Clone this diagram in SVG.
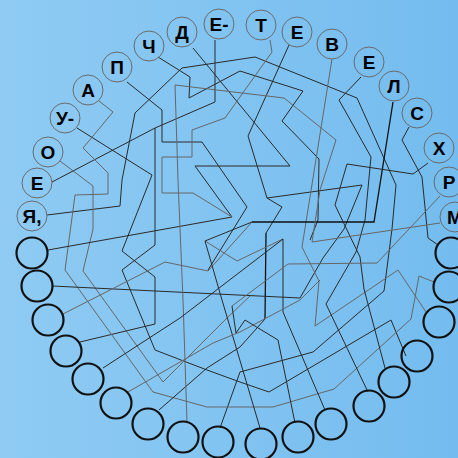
<svg xmlns="http://www.w3.org/2000/svg" width="458" height="458" viewBox="0 0 458 458">
<defs>
<linearGradient id="bg" x1="0" y1="0" x2="1" y2="0">
<stop offset="0" stop-color="#8fcbf3"/>
<stop offset="1" stop-color="#74bcef"/>
</linearGradient>
</defs>
<style>
.lc{fill:none;stroke:#6a6a6a;stroke-width:1}
.ec{fill:none;stroke:#111;stroke-width:2.2}
.t{font-family:"Liberation Sans",Arial,sans-serif;font-weight:bold;font-size:19px;fill:#000;text-anchor:middle}
.w polyline{fill:none;stroke:#2a2a2a;stroke-width:1}
.w .g{stroke:#666}
.w .k{stroke:#111;stroke-width:1.3}
</style>
<rect width="458" height="458" fill="url(#bg)"/>
<g id="connectors" class="w">
<polyline points="47,215 120,206 122,180 135,113 182,68 255,57 357,98 396,185 392,229 384,291 313,352 240,372 220,428"/>
<polyline points="52,182 155,128"/>
<polyline points="215,40 215,102 155,128 155,245 122,270 155,350 207,370 240,382 269,392 391,320 406,356"/>
<polyline points="60,161 93,186 93,229 83,271 163,382 229,316 250,296" class="g"/>
<polyline points="77,128 152,175 122,251 155,277 155,324 80,342"/>
<polyline points="99,101 113,112 83,148 108,173 108,194 75,195 65,270 153,392 207,407 273,407 334,389 411,319 419,276 434,282" class="g"/>
<polyline points="127,82 162,110 162,142 202,142 247,207 208,270"/>
<polyline points="158,57 190,77 189,98 240,71 303,91 282,121 319,159 318,220 310,240"/>
<polyline points="193,48 290,166 195,166 232,217 48,250"/>
<polyline points="270,40 272,52 225,118 192,130 192,157 162,157 162,193 193,193 232,217" class="g"/>
<polyline points="289,45 248,136 267,198 282,207 266,233"/>
<polyline points="266,233 265,319" class="k"/>
<polyline points="265,319 240,347 207,368 159,410"/>
<polyline points="267,198 362,185 344,229 323,258 300,298 52,286"/>
<polyline points="205,241 237,261 283,239" class="g"/>
<polyline points="283,239 283,312 325,410"/>
<polyline points="332,59 302,247 319,281 315,326 398,270 426,312" class="g"/>
<polyline points="361,77 339,100 371,157 365,220 356,252 326,304 368,392"/>
<polyline points="393,102 374,222 252,222" class="k"/>
<polyline points="252,222 208,271 165,262 63,314" class="g"/>
<polyline points="409,127 402,140 422,177 428,238 438,245"/>
<polyline points="428,163 413,174 347,164 335,205 360,257 364,289 385,368"/>
<polyline points="440,196 377,263 288,264 232,306" class="g"/>
<polyline points="260,428 222,300 205,241"/>
<polyline points="440,223 312,242 320,190 336,140 284,98 175,85 178,180 183,300 187,422" class="g"/>
<polyline points="103,368 180,318 283,239"/>
<polyline points="128,392 213,343 240,332 300,300 320,280" class="g"/>
<polyline points="295,423 278,340 245,320 236,333 232,306"/>
<polyline points="205,241 252,222"/>
</g>
<g id="n1"><circle class="lc" cx="32" cy="216" r="15"/><text class="t" x="32" y="223">Я,</text></g>
<g id="n2"><circle class="lc" cx="37" cy="183" r="15"/><text class="t" x="37" y="190">Е</text></g>
<g id="n3"><circle class="lc" cx="48" cy="152" r="15"/><text class="t" x="48" y="159">О</text></g>
<g id="n4"><circle class="lc" cx="65" cy="118" r="15"/><text class="t" x="65" y="125">У-</text></g>
<g id="n5"><circle class="lc" cx="88" cy="90" r="15"/><text class="t" x="88" y="97">А</text></g>
<g id="n6"><circle class="lc" cx="117" cy="67" r="15"/><text class="t" x="117" y="74">П</text></g>
<g id="n7"><circle class="lc" cx="149" cy="46" r="15"/><text class="t" x="149" y="53">Ч</text></g>
<g id="n8"><circle class="lc" cx="182" cy="32" r="15"/><text class="t" x="182" y="39">Д</text></g>
<g id="n9"><circle class="lc" cx="219" cy="24" r="15"/><text class="t" x="219" y="31">Е-</text></g>
<g id="n10"><circle class="lc" cx="261" cy="25" r="15"/><text class="t" x="261" y="32">Т</text></g>
<g id="n11"><circle class="lc" cx="297" cy="32" r="15"/><text class="t" x="297" y="39">Е</text></g>
<g id="n12"><circle class="lc" cx="332" cy="44" r="15"/><text class="t" x="332" y="51">В</text></g>
<g id="n13"><circle class="lc" cx="369" cy="62" r="15"/><text class="t" x="369" y="69">Е</text></g>
<g id="n14"><circle class="lc" cx="394" cy="86" r="15"/><text class="t" x="394" y="93">Л</text></g>
<g id="n15"><circle class="lc" cx="417" cy="113" r="15"/><text class="t" x="417" y="120">С</text></g>
<g id="n16"><circle class="lc" cx="439" cy="148" r="15"/><text class="t" x="439" y="155">Х</text></g>
<g id="n17"><circle class="lc" cx="449" cy="182" r="15"/><text class="t" x="449" y="189">Р</text></g>
<g id="n18"><circle class="lc" cx="455" cy="217" r="15"/><text class="t" x="455" y="224">М</text></g>
<g id="e1"><circle class="ec" cx="451" cy="253" r="15.5"/></g>
<g id="e2"><circle class="ec" cx="449" cy="287" r="15.5"/></g>
<g id="e3"><circle class="ec" cx="439" cy="322" r="15.5"/></g>
<g id="e4"><circle class="ec" cx="417" cy="356" r="15.5"/></g>
<g id="e5"><circle class="ec" cx="394" cy="382" r="15.5"/></g>
<g id="e6"><circle class="ec" cx="369" cy="406" r="15.5"/></g>
<g id="e7"><circle class="ec" cx="331" cy="424" r="15.5"/></g>
<g id="e8"><circle class="ec" cx="298" cy="437" r="15.5"/></g>
<g id="e9"><circle class="ec" cx="261" cy="444" r="15.5"/></g>
<g id="e10"><circle class="ec" cx="218" cy="442" r="15.5"/></g>
<g id="e11"><circle class="ec" cx="183" cy="437" r="15.5"/></g>
<g id="e12"><circle class="ec" cx="148" cy="424" r="15.5"/></g>
<g id="e13"><circle class="ec" cx="116" cy="403" r="15.5"/></g>
<g id="e14"><circle class="ec" cx="88" cy="379" r="15.5"/></g>
<g id="e15"><circle class="ec" cx="66" cy="351" r="15.5"/></g>
<g id="e16"><circle class="ec" cx="48" cy="320" r="15.5"/></g>
<g id="e17"><circle class="ec" cx="37" cy="286" r="15.5"/></g>
<g id="e18"><circle class="ec" cx="32" cy="253" r="15.5"/></g>
</svg>
